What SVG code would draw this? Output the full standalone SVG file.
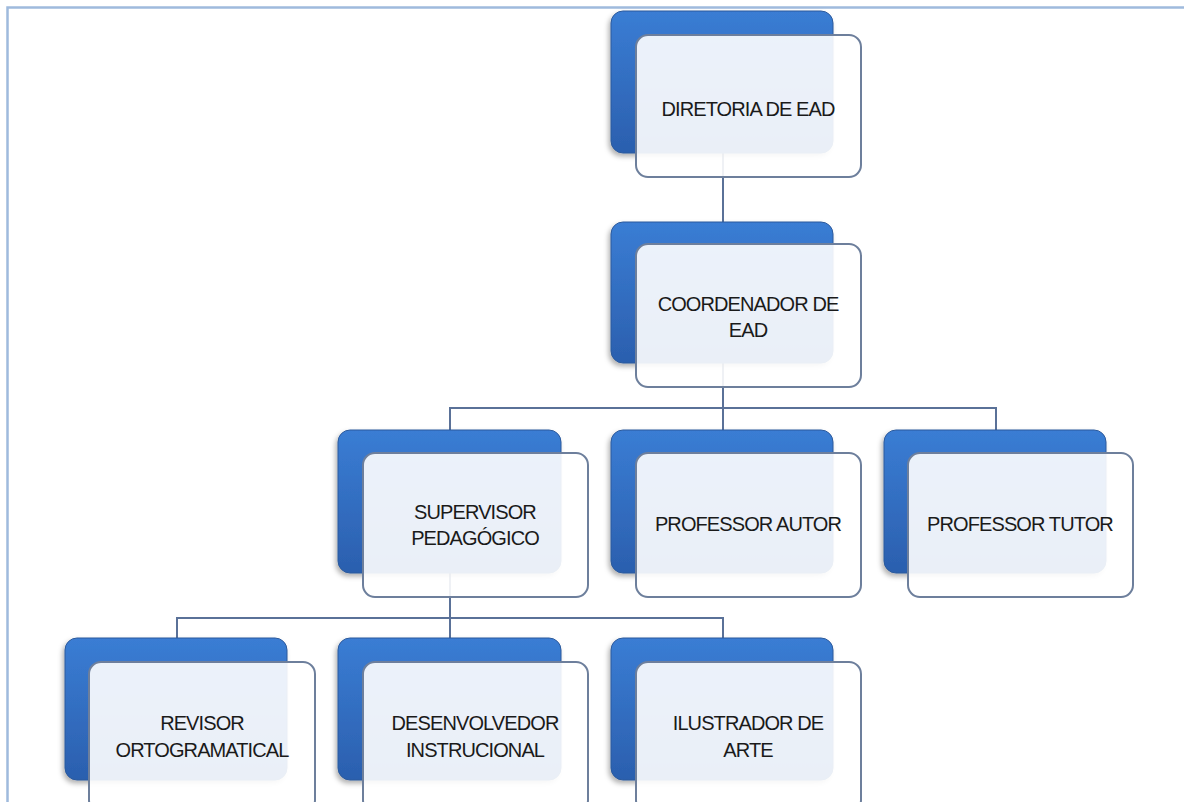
<svg xmlns="http://www.w3.org/2000/svg" width="1184" height="802" viewBox="0 0 1184 802">
<defs>
<linearGradient id="blue" x1="0" y1="0" x2="0" y2="1">
<stop offset="0" stop-color="#3a7dd4"/>
<stop offset="1" stop-color="#2b5fae"/>
</linearGradient>
<filter id="sh" x="-10%" y="-10%" width="120%" height="125%">
<feDropShadow dx="-2" dy="3" stdDeviation="2.5" flood-color="#000" flood-opacity="0.3"/>
</filter>
<style>
.back{fill:url(#blue);stroke:#2d5a9c;stroke-width:1;filter:url(#sh)}
.front{fill:#ffffff;fill-opacity:0.9;stroke:#6d7f9c;stroke-width:2}
.lbl{font-family:"Liberation Sans",Arial,sans-serif;font-size:20px;fill:#1a1a1a;text-anchor:middle;letter-spacing:-0.9px}
.conn{fill:none;stroke:#5a7198;stroke-width:2}
</style>
</defs>
<rect width="1184" height="802" fill="#fff"/>
<path d="M7.5,802 V7.5 H1184" fill="none" stroke="#9fbadd" stroke-width="2.5"/>
<g id="connectors">
<path class="conn" d="M723,153 V222"/>
<path class="conn" d="M723,363 V430 M450,430 V408 H996 V430"/>
<path class="conn" d="M450,573 V638 M177,638 V618 H723 V638"/>
</g>
<g id="n1">
<rect class="back" x="611" y="11" width="222" height="142" rx="12"/>
<rect class="front" x="636" y="35" width="225" height="142" rx="12"/>
<text class="lbl" x="748" y="116">DIRETORIA DE EAD</text>
</g>
<g id="n2">
<rect class="back" x="611" y="222" width="222" height="141" rx="12"/>
<rect class="front" x="636" y="244" width="225" height="143" rx="12"/>
<text class="lbl" x="748" y="311">COORDENADOR DE</text>
<text class="lbl" x="748" y="337">EAD</text>
</g>
<g id="n3">
<rect class="back" x="338" y="430" width="223" height="143" rx="12"/>
<rect class="front" x="363" y="453" width="225" height="144" rx="12"/>
<text class="lbl" x="475" y="519">SUPERVISOR</text>
<text class="lbl" x="475" y="545">PEDAGÓGICO</text>
</g>
<g id="n4">
<rect class="back" x="611" y="430" width="222" height="143" rx="12"/>
<rect class="front" x="636" y="453" width="225" height="144" rx="12"/>
<text class="lbl" x="748" y="531">PROFESSOR AUTOR</text>
</g>
<g id="n5">
<rect class="back" x="884" y="430" width="222" height="143" rx="12"/>
<rect class="front" x="908" y="453" width="225" height="144" rx="12"/>
<text class="lbl" x="1020" y="531">PROFESSOR TUTOR</text>
</g>
<g id="n6">
<rect class="back" x="65" y="638" width="222" height="142" rx="12"/>
<rect class="front" x="89" y="662" width="226" height="150" rx="12"/>
<text class="lbl" x="202" y="730">REVISOR</text>
<text class="lbl" x="202" y="757">ORTOGRAMATICAL</text>
</g>
<g id="n7">
<rect class="back" x="338" y="638" width="223" height="142" rx="12"/>
<rect class="front" x="363" y="662" width="225" height="150" rx="12"/>
<text class="lbl" x="475" y="730">DESENVOLVEDOR</text>
<text class="lbl" x="475" y="757">INSTRUCIONAL</text>
</g>
<g id="n8">
<rect class="back" x="611" y="638" width="222" height="142" rx="12"/>
<rect class="front" x="636" y="662" width="225" height="150" rx="12"/>
<text class="lbl" x="748" y="730">ILUSTRADOR DE</text>
<text class="lbl" x="748" y="757">ARTE</text>
</g>
</svg>
